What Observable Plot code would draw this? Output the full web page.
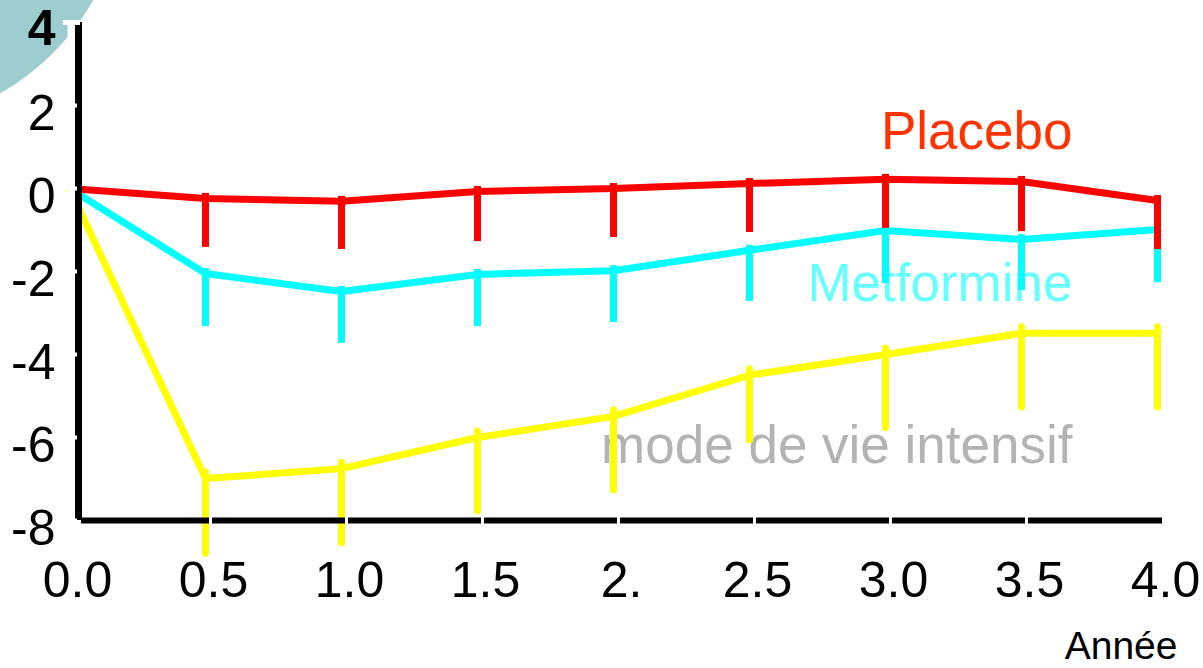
<!DOCTYPE html>
<html>
<head>
<meta charset="utf-8">
<script src="https://cdn.jsdelivr.net/npm/d3@7"></script>
<script src="https://cdn.jsdelivr.net/npm/@observablehq/plot@0.6"></script>
<style>
  html, body { margin: 0; padding: 0; background: white; overflow: hidden; }
  #chart svg { display: block; }
</style>
</head>
<body>
<div id="chart"></div>
<script>
// ---- data ----
const years = [0, 0.5, 1, 1.5, 2, 2.5, 3, 3.5, 4];
const placeboMean = [0, -0.24, -0.31, -0.07, 0, 0.12, 0.22, 0.17, -0.29];
const placeboLow = [null, -1.42, -1.47, -1.28, -1.18, -1.06, -0.96, -1.04, -1.47];
const metforminMean = [0, -2.05, -2.48, -2.07, -1.98, -1.49, -1.01, -1.23, -0.99];
const metforminLow = [null, -3.33, -3.73, -3.33, -3.23, -2.72, -2.29, -2.46, -2.27];
const lifestyleMean = [0, -6.99, -6.75, -6.0, -5.49, -4.5, -4.0, -3.49, -3.49];
const lifestyleLow = [null, -8.8, -8.55, -7.78, -7.28, -6.07, -5.78, -5.28, -5.28];
const seriesNames = ["Placebo", "Metformine", "mode de vie intensif"];
const seriesColors = ["#ff0000", "#00ffff", "#ffff00"];
const labelColors = ["#ff3300", "#66ffff", "#b3b3b3"];
const xTicks = [0, 0.5, 1, 1.5, 2, 2.5, 3, 3.5, 4];
const xTickLabels = ["0.0", "0.5", "1.0", "1.5", "2.", "2.5", "3.0", "3.5", "4.0"];
const yTicks = [4, 2, 0, -2, -4, -6, -8];
const xTitle = "Année";

// ---- build table ----
const means = [placeboMean, metforminMean, lifestyleMean];
const lows = [placeboLow, metforminLow, lifestyleLow];
const rows = [];
seriesNames.forEach((s, si) => {
  years.forEach((yr, i) => {
    rows.push({series: s, si, year: yr, mean: means[si][i], low: lows[si][i]});
  });
});

const font = "'Liberation Sans', Arial, Helvetica, sans-serif";
const labelDy = [126, 278, 440];

const marks = [];
// decorative teal disc in the top-left corner
marks.push(Plot.dot([0], {frameAnchor: "top-left", dx: -189, dy: -142, r: 244, fill: "#9dcdcf"}));

// series labels
seriesNames.forEach((s, si) => {
  marks.push(Plot.text([s], {
    frameAnchor: "top-right", dx: -85, dy: labelDy[si], textAnchor: "end", lineAnchor: "bottom",
    text: d => d, fill: labelColors[si], fontSize: 53, fontFamily: font
  }));
});

// lines (yellow, cyan, red order so red is on top)
[2, 1, 0].forEach(si => {
  const data = rows.filter(r => r.si === si);
  marks.push(Plot.line(data, {x: "year", y: "mean", stroke: seriesColors[si], strokeWidth: 7, strokeLinejoin: "miter", strokeLinecap: "butt"}));
});
// error bars
[2, 1, 0].forEach(si => {
  const data = rows.filter(r => r.si === si && r.low != null);
  marks.push(Plot.ruleX(data, {
    x: "year", y1: "mean", y2: "low", stroke: seriesColors[si], strokeWidth: 7,
    strokeLinecap: si === 2 ? "round" : "butt", insetTop: si === 2 ? -6 : -5
  }));
});

// mask left of the axis
marks.push(Plot.ruleX([0], {dx: 2, y1: -8, y2: 4, stroke: "white", strokeWidth: 8, insetTop: 8}));
// axes
marks.push(Plot.ruleX([0], {dx: 9, y1: -8, y2: 4, stroke: "black", strokeWidth: 7}));
marks.push(Plot.ruleY([-8], {x1: 0, x2: 4, insetLeft: 12, insetRight: -5, stroke: "black", strokeWidth: 6}));
// white notches
marks.push(Plot.ruleY(yTicks.filter(t => t !== 4), {y: d => d, x1: 0, x2: 0, insetLeft: 3, insetRight: -8, stroke: "white", strokeWidth: 4}));
marks.push(Plot.ruleY(yTicks.filter(t => t === 4), {y: d => d, x1: 0, x2: 0, insetLeft: -6, insetRight: -11, stroke: "white", strokeWidth: 5}));
marks.push(Plot.ruleX(xTicks.slice(1, -1), {x: d => d, y1: -8, y2: -8, insetTop: -4, insetBottom: -4, dx: 5, stroke: "white", strokeWidth: 3}));

// tick labels
marks.push(Plot.text(yTicks.filter(t => t !== 4), {
  y: d => d, text: d => String(d), frameAnchor: "left", dx: -14, dy: 8,
  textAnchor: "end", fontSize: 50, fontFamily: font, fill: "black"
}));
marks.push(Plot.text(yTicks.filter(t => t === 4), {
  y: d => d, text: d => String(d), frameAnchor: "left", dx: -14, dy: 6,
  textAnchor: "end", fontSize: 50, fontFamily: font, fill: "black", fontWeight: "bold"
}));
marks.push(Plot.text(xTicks, {
  x: d => d, text: (d, i) => xTickLabels[i], frameAnchor: "bottom", dx: 8, dy: 76,
  lineAnchor: "bottom", fontSize: 50, fontFamily: font, fill: "black"
}));
marks.push(Plot.text([xTitle], {
  text: d => d, frameAnchor: "bottom-right", dx: 20, dy: 138, textAnchor: "end",
  lineAnchor: "bottom", fontSize: 39, fontFamily: font, fill: "black"
}));

const chart = Plot.plot({
  width: 1203,
  height: 668,
  marginLeft: 69,
  marginRight: 46,
  marginTop: 22,
  marginBottom: 148,
  x: {domain: [0, 4], axis: null},
  y: {domain: [-8, 4], axis: null},
  style: {background: "white", fontFamily: font, overflow: "hidden"},
  marks
});
document.getElementById("chart").appendChild(chart);
</script>
</body>
</html>
